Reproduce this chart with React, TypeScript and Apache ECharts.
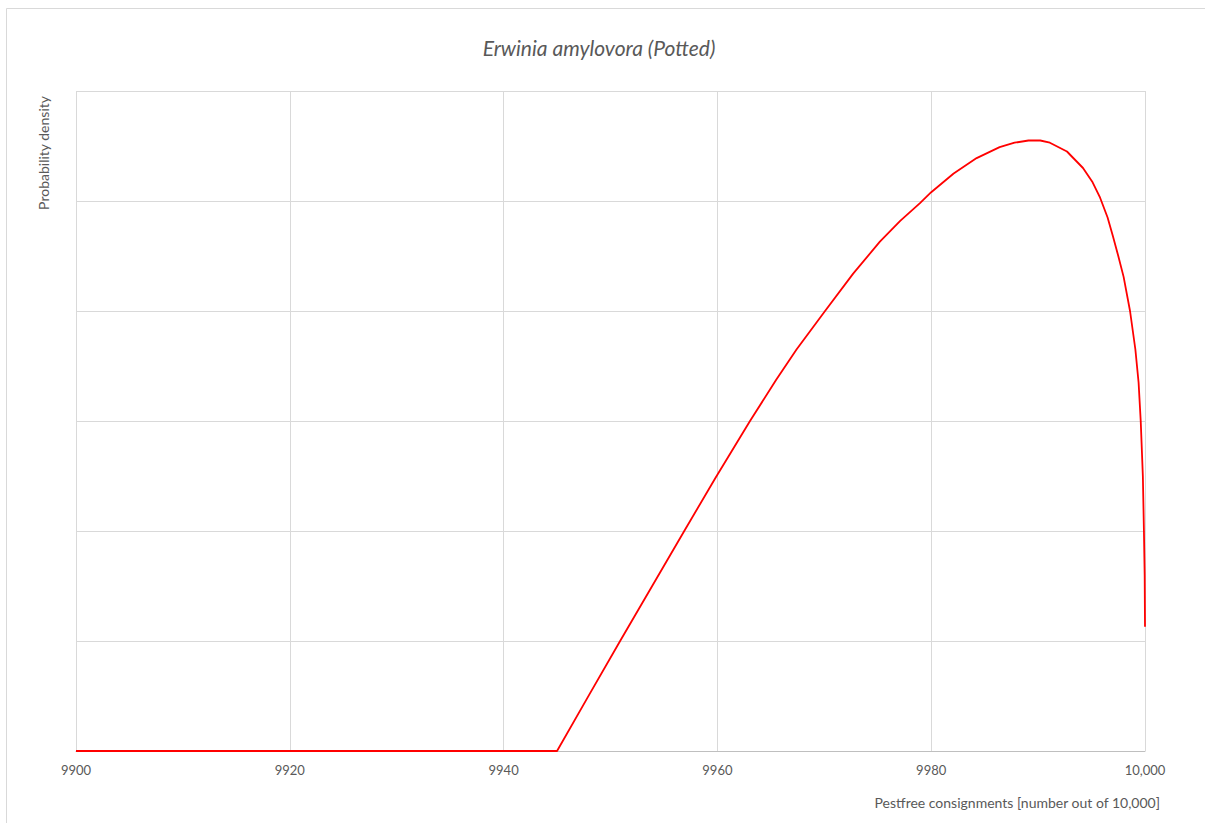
import React, { useEffect, useRef } from "react";
import * as echarts from "echarts";

const titleText = "Erwinia amylovora (Potted)";
const xAxisName = "Pestfree consignments [number out of 10,000]";
const yAxisName = "Probability density";

const xMin = 9900;
const xMax = 10000;
const xStep = 20;

// Pestfree consignments (x) and relative density (y, in gridline units)
const xValues = [
  9900, 9945, 9948, 9950.9, 9953.9, 9956.9, 9959.8, 9963.05, 9965.5, 9967.4,
  9970.07, 9972.7, 9975.2, 9977.1, 9978.95, 9980.0, 9982.1, 9984.25, 9986.4,
  9987.8, 9989.1, 9990.2, 9991.1, 9992.7, 9994.2, 9995.1, 9995.8, 9996.5,
  9997.0, 9997.5, 9998.0, 9998.6, 9999.1, 9999.4, 9999.6, 9999.8, 9999.9,
  9999.97, 10000,
];
const densityValues = [
  0, 0, 0.51, 1.0, 1.5, 2.0, 2.48, 3.0, 3.375, 3.65,
  4.0, 4.34, 4.63, 4.82, 4.98, 5.08, 5.25, 5.39, 5.49,
  5.53, 5.55, 5.55, 5.53, 5.45, 5.3, 5.17, 5.03, 4.85,
  4.68, 4.5, 4.31, 4.0, 3.65, 3.35, 3.0, 2.5, 2.0,
  1.6, 1.13,
];

const seriesData = xValues.map((x, i) => [x, densityValues[i]]);

const formatTick = (v: number) =>
  v >= 10000 ? v.toLocaleString("en-US") : String(v);

export default function App() {
  const ref = useRef<HTMLDivElement>(null);
  useEffect(() => {
    if (!ref.current) return;
    const chart = echarts.init(ref.current, undefined, { renderer: "svg" });
    const font = "Lato, 'Open Sans', sans-serif";
    chart.setOption({
      animation: false,
      backgroundColor: "#ffffff",
      grid: { left: 76, right: 60, top: 91, bottom: 72 },
      xAxis: {
        type: "value",
        min: xMin,
        max: xMax,
        interval: xStep,
        axisLine: { show: true, lineStyle: { color: "#bfbfbf", width: 1 } },
        axisTick: { show: false },
        axisLabel: {
          color: "#595959",
          fontFamily: font,
          fontSize: 13,
          margin: 12,
          formatter: formatTick,
        },
        splitLine: { show: true, lineStyle: { color: "#d9d9d9", width: 1 } },
      },
      yAxis: {
        type: "value",
        min: 0,
        max: 6,
        interval: 1,
        axisLine: { show: false },
        axisTick: { show: false },
        axisLabel: { show: false },
        splitLine: { show: true, lineStyle: { color: "#d9d9d9", width: 1 } },
      },
      series: [
        {
          type: "line",
          data: seriesData,
          showSymbol: false,
          smooth: false,
          lineStyle: { color: "#ff0000", width: 1.8, join: "round" },
          itemStyle: { color: "#ff0000" },
        },
      ],
      graphic: [
        {
          type: "rect",
          shape: { x: 6.5, y: 8.5, width: 1400, height: 1000 },
          style: { fill: "none", stroke: "#d9d9d9", lineWidth: 1 },
          silent: true,
        },
        {
          type: "text",
          x: 599,
          y: 47,
          style: {
            text: titleText,
            fill: "#595959",
            font: `italic 21px ${font}`,
            textAlign: "center",
            textVerticalAlign: "middle",
          },
        },
        {
          type: "text",
          x: 1160,
          y: 802,
          style: {
            text: xAxisName,
            fill: "#595959",
            font: `14px ${font}`,
            textAlign: "right",
            textVerticalAlign: "middle",
          },
        },
        {
          type: "text",
          x: 43,
          y: 96,
          rotation: Math.PI / 2,
          style: {
            text: yAxisName,
            fill: "#595959",
            font: `14px ${font}`,
            textAlign: "right",
            textVerticalAlign: "middle",
          },
        },
      ],
    });
    return () => chart.dispose();
  }, []);
  return (
    <div
      ref={ref}
      style={{ position: "fixed", left: 0, top: 0, width: 1205, height: 823 }}
    />
  );
}
